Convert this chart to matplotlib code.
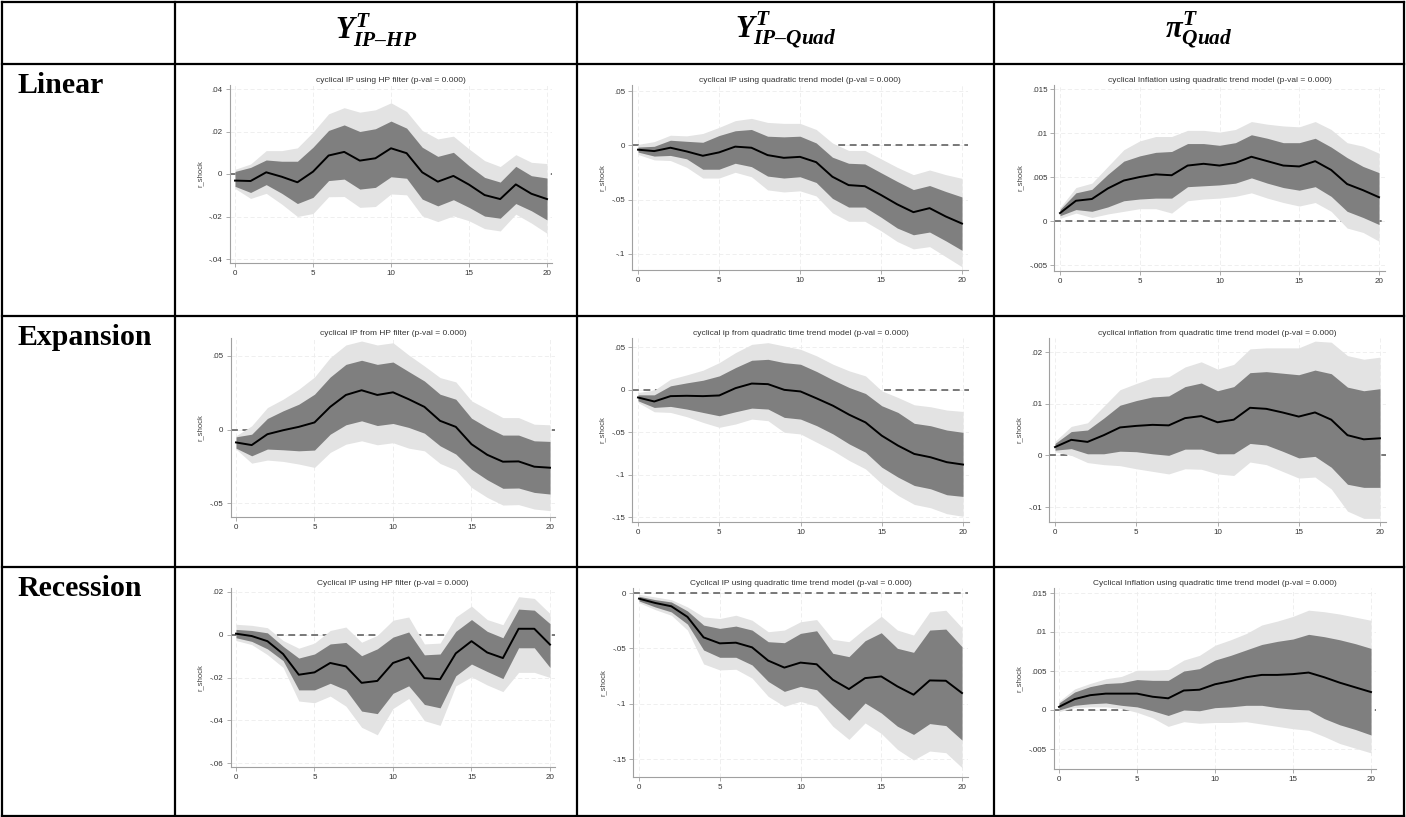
import numpy as np
import matplotlib
matplotlib.use("Agg")
import matplotlib.pyplot as plt
from matplotlib.ticker import FuncFormatter

plt.rcParams['font.family'] = ['Liberation Sans', 'DejaVu Sans']
plt.rcParams['mathtext.fontset'] = 'custom'
plt.rcParams['mathtext.it'] = 'Liberation Serif:italic:bold'
plt.rcParams['mathtext.rm'] = 'Liberation Serif:bold'
plt.rcParams['mathtext.bf'] = 'Liberation Serif:bold'

# horizons 0..20
steps = list(range(21))

col_heads = ['$Y^{T}_{IP\u2013HP}$', '$Y^{T}_{IP\u2013Quad}$', r'$\pi^{T}_{Quad}$']
row_heads = ['Linear', 'Expansion', 'Recession']

titles = [
    'cyclical IP using HP filter (p-val = 0.000)',
    'cyclical IP using quadratic trend model (p-val = 0.000)',
    'cyclical Inflation using quadratic trend model (p-val = 0.000)',
    'cyclical IP from HP filter (p-val = 0.000)',
    'cyclical ip from quadratic time trend model (p-val = 0.000)',
    'cyclical inflation from quadratic time trend model (p-val = 0.000)',
    'Cyclical IP using HP filter (p-val = 0.000)',
    'Cyclical IP using quadratic time trend model (p-val = 0.000)',
    'Cyclical Inflation using quadratic time trend model (p-val = 0.000)',
]

yticks = [
    [-.04, -.02, 0, .02, .04],
    [-.1, -.05, 0, .05],
    [-.005, 0, .005, .01, .015],
    [-.05, 0, .05],
    [-.15, -.1, -.05, 0, .05],
    [-.01, 0, .01, .02],
    [-.06, -.04, -.02, 0, .02],
    [-.15, -.1, -.05, 0],
    [-.005, 0, .005, .01, .015],
]

# ---- linear, HP filter IP
lin_hp_irf = [-0.0031, -0.0033, 0.0008, -0.0013, -0.0039, 0.0011, 0.0087, 0.0104, 0.0063, 0.0074, 0.0121,
              0.0098, 0.0008, -0.0036, -0.0009, -0.005, -0.0099, -0.0118, -0.0049, -0.0093, -0.0118]
lin_hp_hi68 = [0.0012, 0.0031, 0.0066, 0.006, 0.006, 0.0126, 0.0205, 0.0231, 0.02, 0.0213, 0.0249,
               0.0216, 0.0126, 0.0083, 0.0102, 0.0039, -0.0016, -0.0038, 0.0036, -0.0008, -0.0019]
lin_hp_lo68 = [-0.0058, -0.0087, -0.005, -0.0091, -0.0139, -0.011, -0.0031, -0.0024, -0.0071, -0.0063, -0.0013,
               -0.002, -0.0118, -0.015, -0.0121, -0.0157, -0.0198, -0.0208, -0.0139, -0.0173, -0.0216]
lin_hp_hi90 = [0.0022, 0.0047, 0.011, 0.011, 0.0123, 0.0197, 0.0283, 0.0312, 0.0291, 0.0302, 0.0335,
               0.0294, 0.0205, 0.0165, 0.0178, 0.0118, 0.0063, 0.0035, 0.0091, 0.0055, 0.0049]
lin_hp_lo90 = [-0.0068, -0.0115, -0.0091, -0.0142, -0.02, -0.0186, -0.0107, -0.0106, -0.0157, -0.0153, -0.0094,
               -0.0098, -0.0197, -0.0224, -0.0197, -0.022, -0.0257, -0.0268, -0.0189, -0.0231, -0.0279]

# ---- linear, quadratic trend IP
lin_qip_irf = [-0.004, -0.0053, -0.0022, -0.0056, -0.0096, -0.0065, -0.0012, -0.0022, -0.009, -0.0115, -0.0106,
               -0.0155, -0.0289, -0.0366, -0.0376, -0.0457, -0.0543, -0.0615, -0.0578, -0.0655, -0.072]
lin_qip_hi68 = [-0.0016, -0.0009, 0.0047, 0.0037, 0.0028, 0.009, 0.0134, 0.0146, 0.0084, 0.0078, 0.0084,
                0.0022, -0.0109, -0.0165, -0.0171, -0.0252, -0.0332, -0.0407, -0.037, -0.0425, -0.0475]
lin_qip_lo68 = [-0.0062, -0.0099, -0.0093, -0.0124, -0.022, -0.022, -0.0165, -0.0196, -0.0283, -0.0301, -0.0289,
                -0.0342, -0.0488, -0.0568, -0.0568, -0.0661, -0.0761, -0.0823, -0.0798, -0.0879, -0.0966]
lin_qip_hi90 = [0.0009, 0.0034, 0.0093, 0.0087, 0.0109, 0.0165, 0.0227, 0.0248, 0.0211, 0.0202, 0.0202,
                0.0146, 0.0022, -0.0047, -0.0047, -0.0124, -0.0202, -0.027, -0.0227, -0.027, -0.0304]
lin_qip_lo90 = [-0.0084, -0.0134, -0.014, -0.0202, -0.0301, -0.0301, -0.0248, -0.0289, -0.041, -0.0429, -0.0419,
                -0.0466, -0.0621, -0.0699, -0.0699, -0.0786, -0.0885, -0.0953, -0.0932, -0.1025, -0.1118]

# ---- linear, quadratic trend inflation
lin_qpi_irf = [0.0009, 0.0023, 0.0025, 0.0037, 0.0046, 0.005, 0.0053, 0.0052, 0.0063, 0.0065, 0.0063,
               0.0066, 0.0073, 0.0068, 0.0063, 0.0062, 0.0068, 0.0058, 0.0042, 0.0035, 0.0027]
lin_qpi_hi68 = [0.0013, 0.0032, 0.0036, 0.0053, 0.0068, 0.0074, 0.0078, 0.0079, 0.0088, 0.0088, 0.0086,
                0.0089, 0.0098, 0.0094, 0.0089, 0.0089, 0.0094, 0.0084, 0.0072, 0.0062, 0.0055]
lin_qpi_lo68 = [0.0006, 0.0013, 0.0011, 0.0016, 0.0023, 0.0025, 0.0026, 0.0026, 0.0039, 0.004, 0.0041,
                0.0043, 0.0049, 0.0043, 0.0038, 0.0035, 0.0039, 0.0028, 0.0011, 0.0004, -0.0004]
lin_qpi_hi90 = [0.0015, 0.0038, 0.0043, 0.0062, 0.0081, 0.0091, 0.0096, 0.0096, 0.0103, 0.0103, 0.0101,
                0.0104, 0.0113, 0.011, 0.0108, 0.0107, 0.0113, 0.0104, 0.0089, 0.0085, 0.0077]
lin_qpi_lo90 = [0.0003, 0.0009, 0.0004, 0.0008, 0.0011, 0.0014, 0.0014, 0.0009, 0.0023, 0.0025, 0.0026,
                0.0028, 0.0032, 0.0026, 0.0021, 0.0017, 0.0021, 0.0011, -0.0008, -0.0013, -0.0023]

# ---- expansion, HP filter IP
exp_hp_irf = [-0.0088, -0.0106, -0.0032, -0.0005, 0.0018, 0.0048, 0.0154, 0.0235, 0.0267, 0.0235, 0.0253,
              0.0206, 0.0154, 0.0059, 0.0018, -0.01, -0.0172, -0.0219, -0.0217, -0.0253, -0.026]
exp_hp_hi68 = [-0.005, -0.0032, 0.0075, 0.0127, 0.0172, 0.024, 0.0357, 0.0443, 0.0471, 0.0443, 0.0459,
               0.0394, 0.033, 0.024, 0.0206, 0.0077, 0.0014, -0.0038, -0.0038, -0.0077, -0.0081]
exp_hp_lo68 = [-0.0127, -0.0179, -0.0133, -0.0138, -0.0145, -0.014, -0.0032, 0.0032, 0.0059, 0.0027, 0.0041,
               0.0014, -0.0025, -0.0111, -0.0167, -0.0271, -0.0342, -0.04, -0.0398, -0.0428, -0.0439]
exp_hp_hi90 = [-0.0043, 0.0025, 0.0149, 0.0206, 0.0274, 0.0357, 0.0489, 0.0575, 0.0602, 0.0575, 0.059,
               0.0507, 0.0432, 0.0353, 0.0324, 0.0195, 0.0138, 0.0081, 0.0081, 0.0036, 0.0032]
exp_hp_lo90 = [-0.0133, -0.0229, -0.0208, -0.0217, -0.0235, -0.0258, -0.0156, -0.01, -0.0077, -0.0104, -0.009,
               -0.0127, -0.0145, -0.0231, -0.0276, -0.0394, -0.0462, -0.0514, -0.0511, -0.0541, -0.0552]

# ---- expansion, quadratic trend IP
exp_qip_irf = [-0.0094, -0.0141, -0.0078, -0.0074, -0.0078, -0.007, 0.0016, 0.007, 0.0063, -0.0004, -0.0023,
               -0.0105, -0.0191, -0.0297, -0.0387, -0.0543, -0.066, -0.0758, -0.0797, -0.0855, -0.0883]
exp_qip_hi68 = [-0.0063, -0.0063, 0.0043, 0.0078, 0.0109, 0.016, 0.0258, 0.0344, 0.0355, 0.0316, 0.0297,
                0.0211, 0.0113, 0.0023, -0.0047, -0.0191, -0.027, -0.0398, -0.0426, -0.0477, -0.0504]
exp_qip_lo68 = [-0.0133, -0.0211, -0.0199, -0.023, -0.027, -0.0309, -0.0262, -0.0219, -0.023, -0.0328, -0.0348,
                -0.0426, -0.0523, -0.0641, -0.0738, -0.0914, -0.1031, -0.1129, -0.1168, -0.1238, -0.1258]
exp_qip_hi90 = [-0.0035, -0.0008, 0.0121, 0.0172, 0.0227, 0.0316, 0.0434, 0.0531, 0.0551, 0.0512, 0.0473,
                0.0395, 0.0297, 0.0219, 0.016, -0.0016, -0.0094, -0.018, -0.0203, -0.0242, -0.0258]
exp_qip_lo90 = [-0.0152, -0.0262, -0.027, -0.032, -0.0387, -0.0445, -0.0406, -0.0348, -0.0367, -0.0504, -0.0523,
                -0.0621, -0.0719, -0.0836, -0.0934, -0.1109, -0.1246, -0.1352, -0.1391, -0.1461, -0.1492]

# ---- expansion, quadratic trend inflation
exp_qpi_irf = [0.0016, 0.003, 0.0026, 0.0039, 0.0054, 0.0057, 0.0059, 0.0058, 0.0072, 0.0076, 0.0064,
               0.0069, 0.0092, 0.009, 0.0083, 0.0075, 0.0083, 0.0069, 0.0039, 0.0031, 0.0033]
exp_qpi_hi68 = [0.0023, 0.0046, 0.0049, 0.0072, 0.0097, 0.0106, 0.0113, 0.0115, 0.0133, 0.014, 0.0125,
                0.0133, 0.016, 0.0162, 0.0159, 0.0156, 0.0165, 0.0158, 0.0132, 0.0125, 0.0129]
exp_qpi_lo68 = [0.001, 0.0013, 0.0003, 0.0003, 0.0008, 0.0007, 0.0003, 0.0, 0.0012, 0.0012, 0.0003,
                0.0003, 0.0023, 0.002, 0.0008, -0.0005, -0.0002, -0.0023, -0.0056, -0.0062, -0.0062]
exp_qpi_hi90 = [0.0027, 0.0056, 0.0063, 0.0095, 0.0127, 0.0139, 0.015, 0.0152, 0.0171, 0.0181, 0.0167,
                0.0176, 0.0206, 0.0208, 0.0208, 0.0208, 0.0221, 0.0219, 0.0193, 0.0186, 0.019]
exp_qpi_lo90 = [0.0007, 0.0, -0.0014, -0.0018, -0.002, -0.0026, -0.0031, -0.0036, -0.0026, -0.0027, -0.0036,
                -0.0039, -0.0013, -0.0018, -0.0031, -0.0044, -0.0042, -0.0065, -0.0108, -0.0122, -0.0122]

# ---- recession, HP filter IP
rec_hp_irf = [0.0005, -0.0006, -0.003, -0.009, -0.0187, -0.0176, -0.0132, -0.0148, -0.0225, -0.0216, -0.0132,
              -0.0106, -0.0203, -0.0208, -0.0087, -0.003, -0.0083, -0.0109, 0.0028, 0.0028, -0.0046]
rec_hp_hi68 = [0.0025, 0.002, 0.0009, -0.0054, -0.0109, -0.009, -0.0043, -0.0036, -0.0098, -0.0066, -0.0011,
               0.0013, -0.0094, -0.009, 0.0016, 0.0071, 0.0016, -0.0014, 0.012, 0.0115, 0.0052]
rec_hp_lo68 = [-0.0014, -0.0031, -0.0066, -0.0121, -0.0258, -0.0258, -0.0227, -0.0258, -0.0357, -0.0369, -0.0274,
               -0.0239, -0.0326, -0.0342, -0.0192, -0.0137, -0.0172, -0.0205, -0.0061, -0.0061, -0.0153]
rec_hp_hi90 = [0.0049, 0.0044, 0.0033, -0.0027, -0.0063, -0.0039, 0.002, 0.0036, -0.0035, -0.0003, 0.0068,
               0.0083, -0.0043, -0.0039, 0.0083, 0.0134, 0.0071, 0.0047, 0.0178, 0.017, 0.0099]
rec_hp_lo90 = [-0.0027, -0.0046, -0.0093, -0.0153, -0.031, -0.0318, -0.0287, -0.0334, -0.0433, -0.0468, -0.0345,
               -0.0298, -0.0402, -0.0424, -0.0239, -0.0197, -0.0235, -0.0266, -0.0176, -0.0176, -0.02]

# ---- recession, quadratic trend IP
rec_qip_irf = [-0.0051, -0.009, -0.012, -0.0216, -0.0401, -0.0455, -0.0449, -0.0491, -0.0611, -0.0674, -0.0629,
               -0.0644, -0.0784, -0.0868, -0.0769, -0.0754, -0.0844, -0.0919, -0.079, -0.0793, -0.0904]
rec_qip_hi68 = [-0.003, -0.006, -0.0081, -0.0162, -0.029, -0.032, -0.0299, -0.0335, -0.044, -0.0449, -0.0365,
                -0.0341, -0.0545, -0.0575, -0.0431, -0.0359, -0.05, -0.0536, -0.0335, -0.0326, -0.0485]
rec_qip_lo68 = [-0.0072, -0.0126, -0.0171, -0.0281, -0.0515, -0.0581, -0.0581, -0.065, -0.0799, -0.0889, -0.0844,
                -0.0874, -0.1018, -0.115, -0.0994, -0.1084, -0.1204, -0.1278, -0.118, -0.1198, -0.1329]
rec_qip_hi90 = [-0.0012, -0.0036, -0.006, -0.0126, -0.0216, -0.0231, -0.0201, -0.0246, -0.035, -0.0335, -0.026,
                -0.024, -0.0419, -0.044, -0.032, -0.021, -0.0335, -0.038, -0.0171, -0.0156, -0.0314]
rec_qip_lo90 = [-0.0087, -0.015, -0.0201, -0.0335, -0.0641, -0.0695, -0.0689, -0.0769, -0.0934, -0.1024, -0.0979,
                -0.1024, -0.1204, -0.1323, -0.1174, -0.1269, -0.1413, -0.1509, -0.1428, -0.1443, -0.1578]

# ---- recession, quadratic trend inflation
rec_qpi_irf = [0.0004, 0.0014, 0.0019, 0.0021, 0.0021, 0.0021, 0.0017, 0.0015, 0.0025, 0.0026, 0.0033,
               0.0037, 0.0042, 0.0045, 0.0045, 0.0046, 0.0048, 0.0042, 0.0035, 0.0029, 0.0023]
rec_qpi_hi68 = [0.0009, 0.0023, 0.003, 0.0034, 0.0035, 0.0039, 0.0038, 0.0038, 0.005, 0.0053, 0.0064,
                0.007, 0.0077, 0.0084, 0.0088, 0.0091, 0.0097, 0.0094, 0.009, 0.0085, 0.0079]
rec_qpi_lo68 = [0.0, 0.0006, 0.0008, 0.0009, 0.0006, 0.0004, -0.0001, -0.0007, 0.0, -0.0001, 0.0003,
                0.0004, 0.0006, 0.0006, 0.0003, 0.0001, 0.0, -0.0011, -0.0019, -0.0025, -0.0032]
rec_qpi_hi90 = [0.0011, 0.0027, 0.0034, 0.004, 0.0043, 0.0051, 0.0051, 0.0052, 0.0064, 0.007, 0.0083,
                0.009, 0.0098, 0.0109, 0.0114, 0.012, 0.0128, 0.0126, 0.0123, 0.0119, 0.0115]
rec_qpi_lo90 = [-0.0002, 0.0003, 0.0004, 0.0004, 0.0002, -0.0003, -0.001, -0.0021, -0.0015, -0.0017, -0.0016,
                -0.0016, -0.0015, -0.0018, -0.0021, -0.0024, -0.0026, -0.0034, -0.0043, -0.0049, -0.0055]

panels = [
    (lin_hp_irf, lin_hp_lo68, lin_hp_hi68, lin_hp_lo90, lin_hp_hi90),
    (lin_qip_irf, lin_qip_lo68, lin_qip_hi68, lin_qip_lo90, lin_qip_hi90),
    (lin_qpi_irf, lin_qpi_lo68, lin_qpi_hi68, lin_qpi_lo90, lin_qpi_hi90),
    (exp_hp_irf, exp_hp_lo68, exp_hp_hi68, exp_hp_lo90, exp_hp_hi90),
    (exp_qip_irf, exp_qip_lo68, exp_qip_hi68, exp_qip_lo90, exp_qip_hi90),
    (exp_qpi_irf, exp_qpi_lo68, exp_qpi_hi68, exp_qpi_lo90, exp_qpi_hi90),
    (rec_hp_irf, rec_hp_lo68, rec_hp_hi68, rec_hp_lo90, rec_hp_hi90),
    (rec_qip_irf, rec_qip_lo68, rec_qip_hi68, rec_qip_lo90, rec_qip_hi90),
    (rec_qpi_irf, rec_qpi_lo68, rec_qpi_hi68, rec_qpi_lo90, rec_qpi_hi90),
]

# layout in pixels: x of step 0, x of step 20, two (value, y px) pairs, spine top / bottom px
W, H = 1406, 817
layout = [
    (235, 547, .04, 89, -.04, 259, 85, 263),
    (638, 962, .05, 91, -.1, 254, 85, 270),
    (1060, 1379, .015, 89, -.005, 265, 85, 271),
    (236, 550, .05, 356, -.05, 503, 338, 517),
    (638, 963, .05, 347, -.15, 517, 338, 522),
    (1055, 1380, .02, 352, -.01, 507, 338, 522),
    (236, 550, .02, 592, -.06, 763, 588, 767),
    (639, 962, 0, 593, -.15, 759, 588, 777),
    (1059, 1371, .015, 593, -.005, 749, 588, 769),
]
XPAD = 0.35


def stata_fmt(v, pos):
    if abs(v) < 1e-12:
        return '0'
    s = f'{round(v, 4):g}'
    return s.replace('0.', '.')


fig = plt.figure(figsize=(W / 100, H / 100), dpi=100)
fig.patch.set_facecolor('white')

# table frame
bg = fig.add_axes([0, 0, 1, 1])
bg.set_xlim(0, W)
bg.set_ylim(H, 0)
bg.axis('off')
vx = [2, 175, 577, 994, 1404]
hy = [1.5, 64, 316, 567, 815.5]
for x in vx:
    bg.plot([x, x], [hy[0], hy[-1]], color='black', lw=1.6, solid_capstyle='projecting')
for y in hy:
    bg.plot([vx[0], vx[-1]], [y, y], color='black', lw=1.6, solid_capstyle='projecting')

for i, lab in enumerate(col_heads):
    bg.text((vx[i + 1] + vx[i + 2]) / 2, 30, lab, fontsize=22, ha='center', va='center')
for i, lab in enumerate(row_heads):
    bg.text(17, hy[i + 1] + 8, lab, fontsize=21.5, fontweight='bold', family='Liberation Serif',
            ha='left', va='top')

for k, (irf, lo68, hi68, lo90, hi90) in enumerate(panels):
    x0, x20, va, pa, vb, pb, top, bot = layout[k]
    ppu = (x20 - x0) / 20
    left = x0 - XPAD * ppu
    width = (20 + 2 * XPAD) * ppu
    ppv = (pb - pa) / (va - vb)
    ytop = va + (pa - top) / ppv
    ybot = vb - (bot - pb) / ppv
    ax = fig.add_axes([left / W, 1 - bot / H, width / W, (bot - top) / H])
    ax.set_xlim(-XPAD, 20 + XPAD)
    ax.set_ylim(ybot, ytop)

    ax.grid(True, color='#ececec', ls=(0, (5, 3)), lw=0.6, zorder=0)
    ax.set_axisbelow(True)
    ax.axhline(0, color='#555555', ls=(0, (4.5, 3)), lw=1.1, zorder=1.5)
    ax.fill_between(steps, lo90, hi90, color='#e3e3e3', lw=0, zorder=2)
    ax.fill_between(steps, lo68, hi68, color='#7f7f7f', lw=0, zorder=3)
    ax.plot(steps, irf, color='black', lw=1.4, zorder=4)

    ax.set_xticks([0, 5, 10, 15, 20])
    ax.set_yticks(yticks[k])
    ax.yaxis.set_major_formatter(FuncFormatter(stata_fmt))
    for s in ('top', 'right'):
        ax.spines[s].set_visible(False)
    for s in ('left', 'bottom'):
        ax.spines[s].set_color('#a0a0a0')
        ax.spines[s].set_linewidth(0.8)
    ax.tick_params(length=3, width=0.6, color='#a0a0a0', labelsize=5.8, labelcolor='#333333', pad=2)
    ax.set_ylabel('r_shock', fontsize=5.5, color='#444444', labelpad=4)
    ax.set_title(titles[k], fontsize=6, color='#333333', pad=2)

fig.savefig('out.png', dpi=100, facecolor='white')
